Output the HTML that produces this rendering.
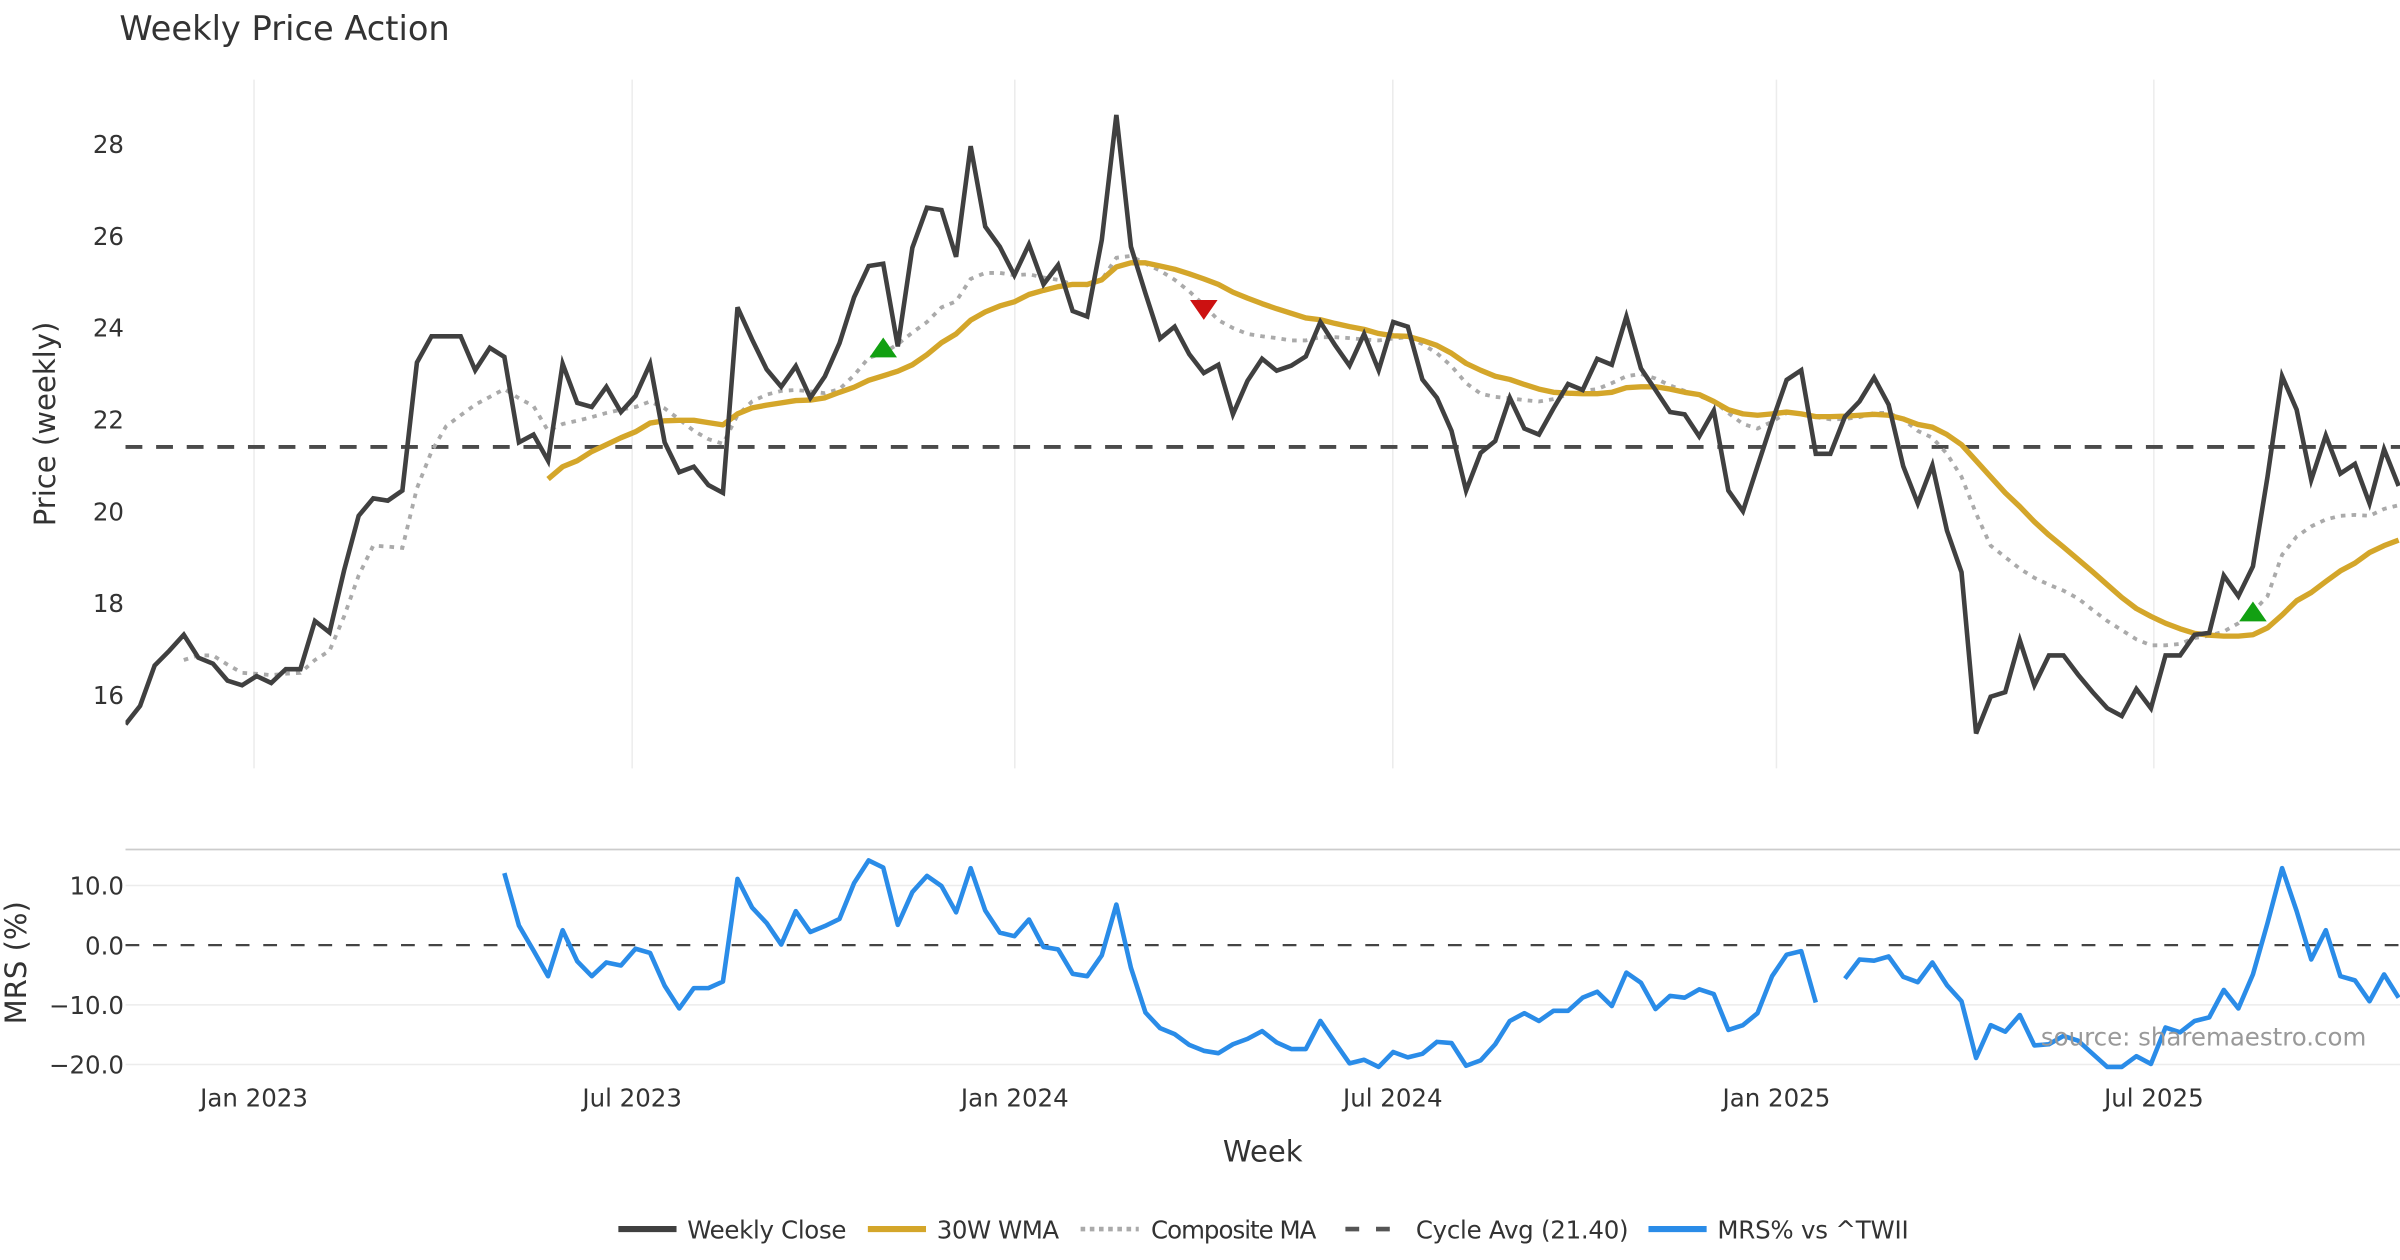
<!DOCTYPE html>
<html><head><meta charset="utf-8"><style>
html,body{margin:0;padding:0;background:#fff;}
svg{display:block;font-family:"DejaVu Sans","Liberation Sans",sans-serif;}
</style></head><body>
<svg id="chart" width="2400" height="1260" viewBox="0 0 1568 823.2" xmlns="http://www.w3.org/2000/svg">
<defs>
<clipPath id="cm"><rect x="82" y="52" width="1486" height="450"/></clipPath>
<clipPath id="cr"><rect x="82" y="556" width="1486" height="150"/></clipPath>
</defs>
<text x="78" y="26" font-size="22" fill="#333">Weekly Price Action</text>
<g id="grid"></g>
<g id="series-main" clip-path="url(#cm)"></g>
<g id="series-mrs" clip-path="url(#cr)"></g>
<g id="axes"></g>
<text transform="translate(36,277) rotate(-90)" text-anchor="middle" font-size="19" fill="#333">Price (weekly)</text>
<text transform="translate(17,629) rotate(-90)" text-anchor="middle" font-size="19" fill="#333">MRS (%)</text>
<text x="825" y="759" text-anchor="middle" font-size="19" fill="#333">Week</text>
<text x="1546" y="683" text-anchor="end" font-size="16" fill="#999">source: sharemaestro.com</text>
<g id="legend">
<line x1="404" y1="803" x2="442" y2="803" stroke="#404040" stroke-width="4"/>
<text x="449" y="809" font-size="16" fill="#333" textLength="104">Weekly Close</text>
<line x1="567" y1="803" x2="605" y2="803" stroke="#d4a62a" stroke-width="4"/>
<text x="612" y="809" font-size="16" fill="#333" textLength="80">30W WMA</text>
<line x1="706" y1="803" x2="744" y2="803" stroke="#aaa" stroke-width="3" stroke-dasharray="3,3"/>
<text x="752" y="809" font-size="16" fill="#333" textLength="108">Composite MA</text>
<line x1="879" y1="803" x2="917" y2="803" stroke="#555" stroke-width="3" stroke-dasharray="9,11"/>
<text x="925" y="809" font-size="16" fill="#333" textLength="139">Cycle Avg (21.40)</text>
<line x1="1077" y1="803" x2="1115" y2="803" stroke="#2a8ce8" stroke-width="4"/>
<text x="1122" y="809" font-size="16" fill="#333" textLength="125">MRS% vs ^TWII</text>
</g>
</svg>
<script>
const closeVals=[15.36,15.76,16.64,16.96,17.31,16.81,16.68,16.31,16.21,16.41,16.26,16.56,16.56,17.61,17.36,18.71,19.90,20.28,20.23,20.45,23.24,23.81,23.81,23.81,23.07,23.56,23.36,21.50,21.67,21.10,23.21,22.36,22.27,22.71,22.16,22.51,23.21,21.50,20.85,20.97,20.57,20.40,24.44,23.74,23.09,22.71,23.16,22.47,22.94,23.66,24.66,25.34,25.39,23.59,
25.74,26.61,26.56,25.54,27.95,26.20,25.76,25.14,25.81,24.94,25.36,24.36,24.24,25.91,28.63,25.76,24.74,23.76,24.02,23.42,23.01,23.19,22.11,22.84,23.32,23.06,23.17,23.37,24.12,23.62,23.17,23.86,23.07,24.12,24.02,22.87,22.47,21.75,20.45,21.27,21.53,22.47,21.80,21.67,22.24,22.77,22.64,23.32,23.19,24.24,23.11,
22.64,22.16,22.11,21.63,22.19,20.45,20.0,20.98,21.95,22.86,23.07,21.25,21.25,22.06,22.39,22.91,22.32,20.98,20.17,21.0,19.58,18.67,15.16,15.96,16.06,17.19,16.21,16.86,16.86,16.44,16.06,15.71,15.54,16.13,15.71,16.86,16.86,17.31,17.35,18.60,18.15,18.80,20.75,22.94,22.21,20.68,21.65,20.82,21.03,20.17,21.35,20.55];
const wmaVals=[null,null,null,null,null,null,null,null,null,null,null,null,null,null,null,null,null,null,null,null,null,null,null,null,null,null,null,null,null,
20.70,20.97,21.1,21.3,21.45,21.6,21.73,21.92,21.97,21.98,21.98,21.93,21.88,22.12,22.25,22.31,22.36,22.41,22.42,22.47,22.59,22.7,22.85,22.95,23.05,
23.19,23.41,23.67,23.86,24.16,24.34,24.47,24.56,24.72,24.81,24.89,24.94,24.94,25.04,25.32,25.41,25.41,25.34,25.27,25.17,25.06,24.94,24.77,24.64,24.52,24.41,24.31,24.21,24.17,24.09,24.02,23.96,23.87,23.82,23.81,23.72,23.61,23.44,23.22,23.07,22.94,22.87,22.76,22.66,22.59,22.57,22.56,22.56,22.59,22.69,
22.71,22.71,22.66,22.59,22.54,22.39,22.21,22.12,22.09,22.12,22.16,22.12,22.06,22.06,22.07,22.09,22.11,22.09,22.01,21.89,21.83,21.67,21.45,21.10,20.75,20.40,20.10,19.77,19.48,19.22,18.95,18.68,18.40,18.12,17.88,17.71,17.56,17.44,17.34,17.30,17.28,17.28,17.31,17.46,17.74,18.05,18.23,18.47,18.70,18.87,19.10,19.25,19.37];
const compositeVals=[null,null,null,null,
16.76,16.86,16.86,16.66,16.48,16.46,16.43,16.46,16.48,16.76,16.96,17.71,18.60,19.25,19.23,19.2,20.5,21.30,21.85,22.09,22.32,22.49,22.66,22.46,22.29,21.75,21.9,21.97,22.05,22.14,22.21,22.27,22.39,22.24,22.0,21.75,21.57,21.47,22.09,22.39,22.54,22.62,22.64,22.61,22.57,22.66,22.96,
23.34,23.44,23.64,23.89,24.12,24.44,24.57,25.06,25.19,25.19,25.14,25.16,25.09,25.04,24.94,24.92,25.04,25.52,25.56,25.39,25.24,25.04,24.79,24.49,24.16,23.99,23.86,23.81,23.77,23.72,23.72,23.79,23.79,23.77,23.74,23.72,23.76,23.79,23.64,23.44,23.16,22.79,22.56,22.49,22.46,22.42,22.39,22.44,22.54,22.62,22.66,22.79,22.94,
22.99,22.89,22.74,22.62,22.51,22.39,22.14,21.9,21.80,21.95,22.14,22.14,22.05,22.0,22.01,22.05,22.14,22.14,22.0,21.75,21.6,21.25,20.75,19.95,19.25,19.0,18.75,18.55,18.40,18.27,18.10,17.85,17.61,17.41,17.21,17.08,17.08,17.11,17.24,17.29,17.38,17.56,17.81,18.15,19.05,19.45,19.67,19.82,19.90,19.92,19.90,20.05,20.13];
const mrsVals=[null,null,null,null,null,null,null,null,null,null,null,null,null,null,null,null,null,null,null,null,null,null,null,null,null,null,
12.06,3.28,-0.9,-5.2,2.5,-2.7,-5.2,-2.9,-3.4,-0.6,-1.3,-6.8,-10.6,-7.2,-7.2,-6.1,11.1,6.3,3.7,0.1,5.7,2.2,3.2,4.4,10.4,14.2,13.0,3.4,8.9,11.6,9.9,5.5,12.9,5.8,2.1,1.5,4.3,-0.3,-0.7,-4.8,-5.2,-1.7,6.8,-3.8,-11.3,-13.9,-14.9,-16.7,-17.7,-18.1,-16.6,-15.7,-14.4,-16.3,-17.4,-17.4,-12.7,-16.3,-19.8,-19.2,-20.4,-17.9,-18.8,-18.2,-16.2,
-16.4,-20.2,-19.3,-16.6,-12.7,-11.4,-12.7,-11.0,-11.0,-8.8,-7.8,-10.2,-4.6,-6.3,-10.7,-8.5,-8.8,-7.4,-8.2,-14.2,-13.4,-11.4,-5.2,-1.6,-1.0,-9.6,null,
-5.6,-2.4,-2.6,-1.9,-5.3,-6.2,-2.9,-6.7,-9.4,-18.9,-13.4,-14.5,-11.7,-16.8,-16.6,-15.2,-16.0,-18.2,-20.4,-20.4,-18.6,-19.9,-13.8,-14.6,-12.7,-12.1,-7.5,-10.6,-4.9,3.7,12.9,5.7,-2.4,2.5,-5.2,-5.9,-9.4,-4.9,-8.8];
const cycleAvg=21.40;
const buyIdx=[52,146];
const buyVals=[23.55,17.8];
const sellIdx=[74];
const sellVals=[24.4];
const priceTicks=[16,18,20,22,24,26,28];
const mrsTicks=[10,0,-10,-20];
const mrsTickLabels=["10.0","0.0","\u221210.0","\u221220.0"];
const dateTickLabels=["Jan 2023","Jul 2023","Jan 2024","Jul 2024","Jan 2025","Jul 2025"];
const dateTickWeeks=[8.82,34.77,61.03,86.97,113.3,139.2];

const NS="http://www.w3.org/2000/svg";
const X=i=>82+i*9.52;
const YP=v=>94+(28-v)*30;
const YM=v=>617.5-v*3.9;
function mk(tag,attrs,parent){const e=document.createElementNS(NS,tag);for(const k in attrs)e.setAttribute(k,attrs[k]);parent.appendChild(e);return e;}
function pathFrom(vals,Y){let d="",pen=false;vals.forEach((v,i)=>{if(v===null||v===undefined){pen=false;return;}d+=(pen?"L":"M")+X(i).toFixed(2)+","+Y(v).toFixed(2);pen=true;});return d;}
const gridG=document.getElementById('grid'),axesG=document.getElementById('axes');
const gm=document.getElementById('series-main'),gr=document.getElementById('series-mrs');
dateTickWeeks.forEach((w,k)=>{
  const l=mk('line',{x1:X(w),x2:X(w),y1:52,y2:502,stroke:'#ececec','stroke-width':1},gridG);
  
  
  const t=mk('text',{x:X(w),y:723,'text-anchor':'middle','font-size':16,fill:'#333'},axesG);
  t.textContent=dateTickLabels[k];
  
  
});
priceTicks.forEach(v=>{
  const t=mk('text',{x:81,y:YP(v)+6,'text-anchor':'end','font-size':16,fill:'#333'},axesG);
  t.textContent=v;
  
  
});
mrsTicks.forEach((v,k)=>{
  if(v!==0){const l=mk('line',{x1:82,x2:1568,y1:YM(v),y2:YM(v),stroke:'#ececec','stroke-width':1},gridG);
  
  }
  const t=mk('text',{x:81,y:YM(v)+6,'text-anchor':'end','font-size':16,fill:'#333'},axesG);
  t.textContent=mrsTickLabels[k];
  
  
});
const mrsTopBorder=mk('line',{x1:82,x2:1568,y1:555,y2:555,stroke:'#ccc','stroke-width':1.2},gridG);


const zl=mk('line',{x1:82,x2:1568,y1:YM(0),y2:YM(0),stroke:'#444','stroke-width':1.5,'stroke-dasharray':'9,9'},gr);


const cyc=mk('line',{x1:82,x2:1568,y1:YP(cycleAvg),y2:YP(cycleAvg),stroke:'#4a4a4a','stroke-width':2.5,'stroke-dasharray':'11,9'},gm);


const comp=mk('path',{d:pathFrom(compositeVals,YP),fill:'none',stroke:'#aaa','stroke-width':2.5,'stroke-dasharray':'3,4'},gm);


const wma=mk('path',{d:pathFrom(wmaVals,YP),fill:'none',stroke:'#d4a62a','stroke-width':3.5,'stroke-linejoin':'round'},gm);


const cl=mk('path',{d:pathFrom(closeVals,YP),fill:'none',stroke:'#404040','stroke-width':3,'stroke-linejoin':'miter'},gm);


buyIdx.forEach((i,k)=>{const x=X(i),y=YP(buyVals[k]);
  const p=mk('path',{d:`M${x-9},${y+6}L${x+9},${y+6}L${x},${y-7}Z`,fill:'#12a012'},gm);
  
  });
sellIdx.forEach((i,k)=>{const x=X(i),y=YP(sellVals[k]);
  const p=mk('path',{d:`M${x-9},${y-6}L${x+9},${y-6}L${x},${y+7}Z`,fill:'#cc1111'},gm);
  
  });
const mrs=mk('path',{d:pathFrom(mrsVals,YM),fill:'none',stroke:'#2a8ce8','stroke-width':3,'stroke-linejoin':'round'},gr);


</script>
</body></html>
